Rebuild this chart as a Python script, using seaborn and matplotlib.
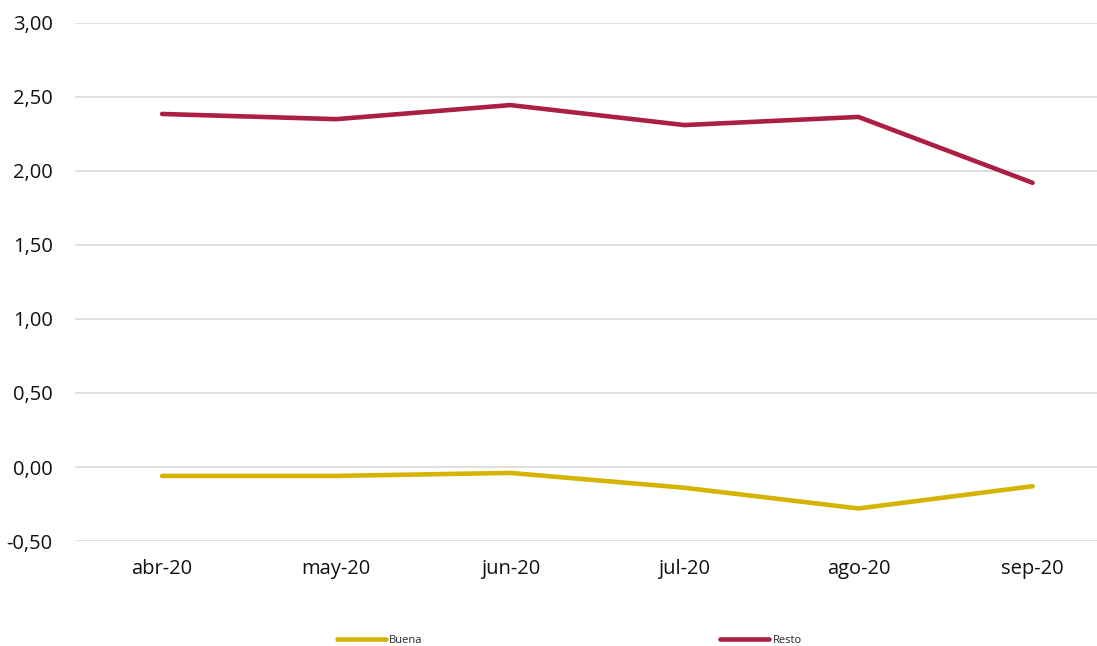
import matplotlib
matplotlib.use("Agg")
import matplotlib.pyplot as plt
import seaborn as sns
import pandas as pd
from matplotlib.ticker import FuncFormatter

months = ["abr-20", "may-20", "jun-20", "jul-20", "ago-20", "sep-20"]
buena = [-0.06, -0.06, -0.04, -0.14, -0.28, -0.13]
resto = [2.385, 2.35, 2.445, 2.31, 2.365, 1.92]

df = pd.DataFrame({
    "mes": months * 2,
    "valor": buena + resto,
    "serie": ["Buena"] * len(months) + ["Resto"] * len(months),
})

sns.set_style("white")
plt.rcParams["font.family"] = ["Open Sans", "DejaVu Sans"]

fig = plt.figure(figsize=(10.97, 6.46), dpi=100)
ax = fig.add_axes([0.0684, 0.1625, 0.9316, 0.802])

sns.lineplot(data=df, x="mes", y="valor", hue="serie",
             palette={"Buena": "#D4B400", "Resto": "#AC1F45"},
             linewidth=3.3, ax=ax, sort=False)

ax.set_ylim(-0.5, 3.0)
ax.set_xlim(-0.5, 5.37)
ax.set_yticks([-0.5, 0, 0.5, 1.0, 1.5, 2.0, 2.5, 3.0])
ax.yaxis.set_major_formatter(FuncFormatter(lambda v, p: f"{v:.2f}".replace(".", ",")))
ax.grid(axis="y", color="#d9d9d9", linewidth=1.2)
ax.set_axisbelow(True)
for s in ax.spines.values():
    s.set_visible(False)
ax.tick_params(axis="both", length=0, labelsize=14.5, colors="#111111")
ax.tick_params(axis="y", pad=16)
ax.tick_params(axis="x", pad=13)
ax.set_xlabel("")
ax.set_ylabel("")

ax.get_legend().remove()
handles, labels = ax.get_legend_handles_labels()
fig.legend(handles, labels, loc="center", bbox_to_anchor=(0.519, 0.009),
           ncol=2, frameon=False, fontsize=8, handlelength=4.4,
           handletextpad=0.3, columnspacing=26.8)

fig.savefig("out.png", dpi=100)
